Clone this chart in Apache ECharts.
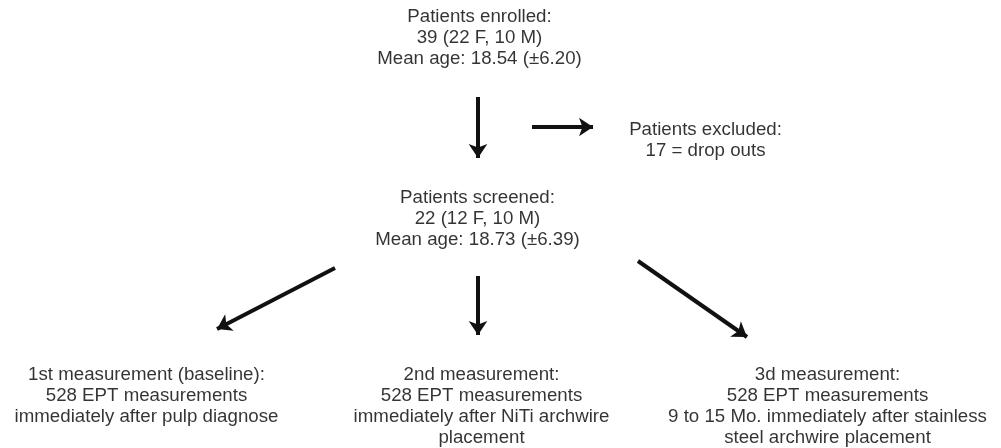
<!DOCTYPE html>
<html>
<head>
<meta charset="utf-8">
<script src="https://cdn.jsdelivr.net/npm/echarts@6/dist/echarts.min.js"></script>
<style>
  html, body { margin: 0; padding: 0; background: #fff; }
  #flow { width: 1001px; height: 448px; }
</style>
</head>
<body>
<div id="flow"></div>
<script>
// box texts of the flow chart
const boxTexts = [
  'Patients enrolled:\n39 (22 F, 10 M)\nMean age: 18.54 (\u00b16.20)',
  'Patients excluded:\n17 = drop outs',
  'Patients screened:\n22 (12 F, 10 M)\nMean age: 18.73 (\u00b16.39)',
  '1st measurement (baseline):\n528 EPT measurements\nimmediately after pulp diagnose',
  '2nd measurement:\n528 EPT measurements\nimmediately after NiTi archwire\nplacement',
  '3d measurement:\n528 EPT measurements\n9 to 15 Mo. immediately after stainless\nsteel archwire placement'
];
// anchor of each box (top centre), in chart units
const boxX = [480, 706, 478, 147, 482, 828];
const boxY = [7, 120, 188, 365, 365, 365];

// arrows: [from, to]
const arrowFrom = [[478, 97], [532, 127], [335, 268], [478, 276], [638, 261]];
const arrowTo   = [[478, 158], [593, 127], [217, 329], [478, 335], [747, 337]];

const chart = echarts.init(document.getElementById('flow'));

const boxes = boxTexts.map((t, i) => ({ value: [boxX[i], boxY[i]], text: t }));
const arrows = arrowFrom.map((f, i) => ({ coords: [f, arrowTo[i]] }));

chart.setOption({
  animation: false,
  backgroundColor: '#fff',
  grid: { left: 0, right: 0, top: 0, bottom: 0 },
  xAxis: { type: 'value', min: 0, max: 1001, show: false },
  yAxis: { type: 'value', min: 0, max: 448, inverse: true, show: false },
  series: [
    {
      type: 'lines',
      coordinateSystem: 'cartesian2d',
      symbol: ['none', 'arrow'],
      symbolSize: 14,
      lineStyle: { color: '#111', width: 4, opacity: 1 },
      data: arrows
    },
    {
      type: 'scatter',
      symbolSize: 1,
      itemStyle: { color: 'rgba(0,0,0,0)' },
      label: {
        show: true,
        position: [0, 0],
        align: 'center',
        verticalAlign: 'top',
        fontFamily: 'Liberation Sans, Arial, sans-serif',
        fontSize: 18.7,
        lineHeight: 21,
        color: '#000',
        textBorderWidth: 0,
        formatter: p => p.data.text
      },
      data: boxes
    }
  ]
});
</script>
</body>
</html>
